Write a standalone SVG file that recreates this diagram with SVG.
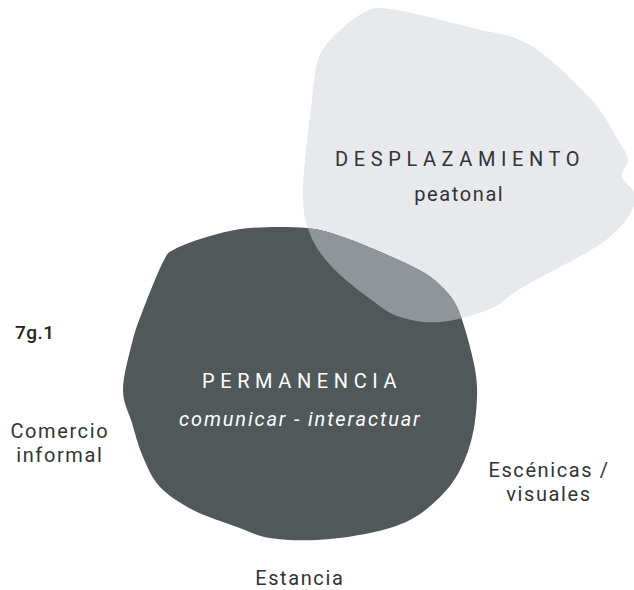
<svg xmlns="http://www.w3.org/2000/svg" xmlns:xlink="http://www.w3.org/1999/xlink" width="634" height="590" viewBox="0 0 634 590">
<style>
text { font-family: Roboto, "Liberation Sans", Arial, sans-serif; font-size: 20px; letter-spacing: 1.6px; fill: #333333; }
.caps { letter-spacing: 5.6px; }
.light { fill: #ffffff; }
.ital { font-style: italic; letter-spacing: 1.85px; }
.mid { text-anchor: middle; }
.fig { font-size: 19px; font-weight: 500; letter-spacing: 0.5px; fill: #222222; }
</style>
<defs>
<path id="lightShape" d="M390,9 C408.3,11.5 449.7,22 473,28 C496.3,34 510.5,33.3 530,45 C549.5,56.7 575.3,82.2 590,98 C604.7,113.8 611.7,129.7 618,140 C624.3,150.3 627.3,153.8 628,160 C628.7,166.2 620.7,170.3 622,177 C623.3,183.7 638.7,189.5 636,200 C633.3,210.5 624.8,225.5 606,240 C587.2,254.5 542.3,275.5 523,287 C503.7,298.5 503.8,303.2 490,309 C476.2,314.8 455,320.7 440,322 C425,323.3 411.2,320.5 400,317 C388.8,313.5 384.2,309.2 373,301 C361.8,292.8 343.5,279.2 333,268 C322.5,256.8 315,247 310,234 C305,221 302.7,212.3 303,190 C303.3,167.7 309.5,121.7 312,100 C314.5,78.3 314.3,70.7 318,60 C321.7,49.3 326.5,43.8 334,36 C341.5,28.2 353.7,17.5 363,13 C372.3,8.5 371.7,6.5 390,9 Z"/>
<path id="darkShape" d="M307,228 C322.5,229.5 330.3,232.8 343,237 C355.7,241.2 369.7,247.2 383,253 C396.3,258.8 413.2,266.3 423,272 C432.8,277.7 436.3,281.2 442,287 C447.7,292.8 452.3,297 457,307 C461.7,317 466.7,333.7 470,347 C473.3,360.3 476.5,372.7 477,387 C477.5,401.3 475.8,419.2 473,433 C470.2,446.8 465.5,459.3 460,470 C454.5,480.7 448.3,488.7 440,497 C431.7,505.3 421.7,514 410,520 C398.3,526 385.5,529.7 370,533 C354.5,536.3 333.7,539.2 317,540 C300.3,540.8 283.3,540.2 270,538 C256.7,535.8 249.8,531.7 237,527 C224.2,522.3 205.8,516.7 193,510 C180.2,503.3 168.3,495.8 160,487 C151.7,478.2 147.7,467.7 143,457 C138.3,446.3 135.3,434.2 132,423 C128.7,411.8 123,403.3 123,390 C123,376.7 128.7,356.3 132,343 C135.3,329.7 137.8,323.5 143,310 C148.2,296.5 157.7,272.2 163,262 C168.3,251.8 167.2,253.3 175,249 C182.8,244.7 197.5,239.5 210,236 C222.5,232.5 233.8,229.3 250,228 C266.2,226.7 291.5,226.5 307,228 Z"/>
<clipPath id="darkClip"><use xlink:href="#darkShape"/></clipPath>
</defs>
<g id="desplazamiento">
<use xlink:href="#lightShape" fill="#e8e9ec"/>
<text class="caps" x="335" y="166">DESPLAZAMIENTO</text>
<text class="mid" x="459.3" y="201">peatonal</text>
</g>
<g id="permanencia">
<use xlink:href="#darkShape" fill="#50585a"/>
<use xlink:href="#lightShape" fill="#8f9598" clip-path="url(#darkClip)"/>
<text class="caps light" x="202" y="388">PERMANENCIA</text>
<text class="light ital" x="179" y="426">comunicar - interactuar</text>
</g>
<g id="figure-label">
<text class="fig" x="15" y="339">7g.1</text>
</g>
<g id="comercio">
<text class="mid" x="59.8" y="438">Comercio</text>
<text class="mid" x="59.8" y="462">informal</text>
</g>
<g id="escenicas">
<text class="mid" x="549" y="477">Escénicas /</text>
<text class="mid" x="549" y="501">visuales</text>
</g>
<g id="estancia">
<text class="mid" x="299.8" y="585">Estancia</text>
</g>
</svg>
